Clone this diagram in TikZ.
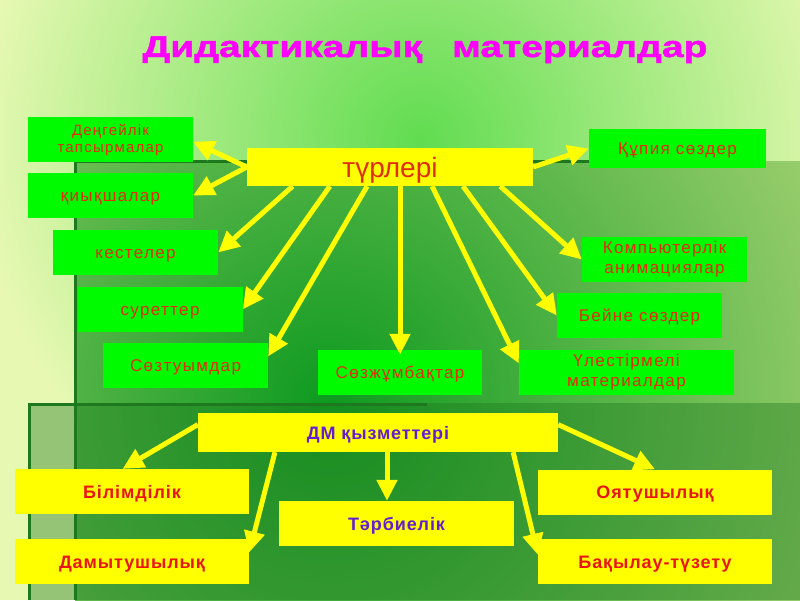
\documentclass[tikz,border=0pt]{standalone}
\usepackage{fontspec}
\setmainfont{Liberation Sans}
\newfontfamily\spacedfont[LetterSpace=8]{Liberation Sans}
\newfontfamily\boldspaced[LetterSpace=5]{Liberation Sans}
\newfontfamily\widefont[FakeStretch=1.3,FakeBold=1.5]{Liberation Sans}
\usetikzlibrary{arrows.meta,calc}
\definecolor{bgpale}{RGB}{230,248,178}
\definecolor{bggreen}{RGB}{96,220,80}
\definecolor{paneldark}{RGB}{14,154,32}
\definecolor{panellight}{RGB}{165,210,115}
\definecolor{edgegreen}{RGB}{30,120,30}
\definecolor{boxgreen}{RGB}{0,250,0}
\definecolor{boxyellow}{RGB}{255,255,0}
\definecolor{textred}{RGB}{225,45,10}
\definecolor{fnred}{RGB}{235,20,20}
\definecolor{fnviolet}{RGB}{100,30,210}
\definecolor{titlemag}{RGB}{255,0,255}

\begin{document}
\begin{tikzpicture}[x=1pt, y=-1pt,
                    vidbox/.style={fill=boxgreen, minimum width=165pt, minimum height=45pt, inner sep=0pt, align=center, text=textred, font=\spacedfont\fontsize{17}{20}\selectfont},
                    vidline/.style={vidbox, text height=12pt, text depth=0pt},
                    fnbox/.style={fill=boxyellow, minimum width=234pt, minimum height=45pt, inner sep=0pt, text height=13pt, text depth=0pt, text=fnred, font=\boldspaced\bfseries\fontsize{18}{22}\selectfont},
                    ray/.style={draw=boxyellow, line width=5pt, -{Triangle[length=21pt,width=20pt]}}]
                    \useasboundingbox (0,0) rectangle (800,600);
                    \fill[bgpale] (0,0) rectangle (800,600);
                    \begin{scope}
                        \clip (0,0) rectangle (800,600);
                        \shade[inner color=bggreen, outer color=bgpale] (420,140) circle (440);
                        \clip (75,161) rectangle (800,600);
                        \fill[panellight] (75,161) rectangle (800,600);
                        \shade[inner color=paneldark, outer color=panellight] (330,400) circle (580);
                    \end{scope}
                    \fill[edgegreen, opacity=0.4] (28,403) rectangle (800,600);
                    \draw[edgegreen, line width=3pt] (75,600) -- (75,161) -- (700,161);
                    \draw[edgegreen, line width=3pt] (29,600) -- (29,404) -- (427,404);

                    \node (title) [anchor=base, text=titlemag, font=\widefont\bfseries\fontsize{30}{32}\selectfont] at (425,57)
                        {Дидактикалық\hspace{30pt}материалдар};
                    \node (turleri) [fill=boxyellow, minimum width=286pt, minimum height=38pt, inner sep=0pt, text height=20pt, text depth=0pt, text=textred, font=\fontsize{28}{30}\selectfont] at (390,167)
                        {түрлері};
                    \node (den) [vidbox, font=\spacedfont\fontsize{15}{17}\selectfont] at (110.5,139.5)
                        {Деңгейлік\\тапсырмалар};
                    \node (kiyk) [vidline] at (110.5,195.5) {қиықшалар};
                    \node (kest) [vidline] at (135.5,252.5) {кестелер};
                    \node (suret) [vidline] at (160,309.5) {суреттер};
                    \node (soztuy) [vidline] at (185.5,365.5) {Сөзтуымдар};
                    \node (sozzhum) [vidline, minimum width=164pt] at (400,372.5) {Сөзжұмбақтар};
                    \node (ulestir) [vidbox, minimum width=215pt] at (626.5,372.5) {Үлестірмелі\\материалдар};
                    \node (beine) [vidline] at (639.5,315.5) {Бейне сөздер};
                    \node (komp) [vidbox] at (664.5,259.5) {Компьютерлік\\анимациялар};
                    \node (kupiya) [vidline, minimum width=177pt, minimum height=39pt] at (677.5,148.5) {Құпия сөздер};

                    \node (dm) [fnbox, minimum width=360pt, minimum height=39pt, text=fnviolet] at (378,432.5) {ДМ қызметтері};
                    \node (bilim) [fnbox] at (132,491.5) {Білімділік};
                    \node (damyt) [fnbox] at (132,561.5) {Дамытушылық};
                    \node (tarbie) [fnbox, minimum width=235pt, text=fnviolet] at (396.5,523.5) {Тәрбиелік};
                    \node (oyat) [fnbox] at (655,492) {Оятушылық};
                    \node (bakylau) [fnbox] at (655,561.5) {Бақылау-түзету};

                    \draw[ray] (turleri.west) -- ($(den.north east)!0.55!(den.south east)$);
                    \draw[ray] (turleri.west) -- (kiyk.east);
                    \draw[ray] ($(turleri.south west)!0.16!(turleri.south east)$) -- (kest.east);
                    \draw[ray] ($(turleri.south west)!0.29!(turleri.south east)$) -- (suret.east);
                    \draw[ray] ($(turleri.south west)!0.42!(turleri.south east)$) -- ($(soztuy.north east)!0.3!(soztuy.south east)$);
                    \draw[ray] (turleri.south -| sozzhum.north) -- ([yshift=-5pt]sozzhum.north);
                    \draw[ray] ($(turleri.south west)!0.647!(turleri.south east)$) -- ($(ulestir.north west)!0.3!(ulestir.south west)$);
                    \draw[ray] ($(turleri.south west)!0.755!(turleri.south east)$) -- (beine.west);
                    \draw[ray] ($(turleri.south west)!0.885!(turleri.south east)$) -- (komp.west);
                    \draw[ray] (turleri.east) -- (kupiya.west);

                    \draw[ray] ($(dm.north west)!0.3!(dm.south west)$) -- ($(bilim.north west)!0.46!(bilim.north east)$);
                    \draw[ray] ($(dm.south west)!0.214!(dm.south east)$) -- ($(damyt.north east)!0.3!(damyt.south east)$);
                    \coordinate (dmfoot) at ($(dm.south west)!0.525!(dm.south east)$);
                    \draw[ray] (dmfoot) -- (dmfoot |- tarbie.north);
                    \draw[ray] ($(dm.south west)!0.875!(dm.south east)$) -- ($(bakylau.north west)!0.35!(bakylau.south west)$);
                    \draw[ray] ($(dm.north east)!0.3!(dm.south east)$) -- (oyat.north);
                \end{tikzpicture}
\end{document}
